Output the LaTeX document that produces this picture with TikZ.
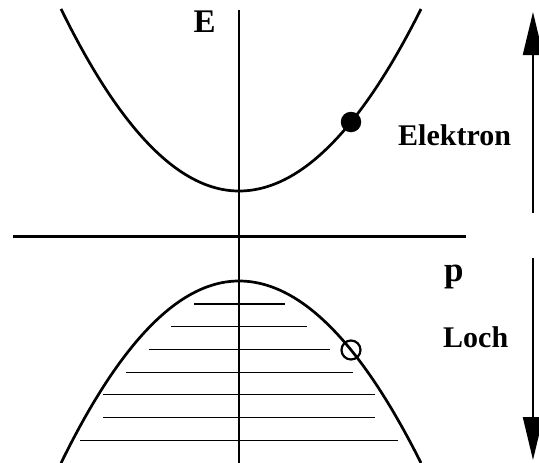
\documentclass[tikz,border=0pt]{standalone}
\usepackage{fontspec}
\setmainfont{Liberation Serif}
\usetikzlibrary{arrows.meta}
\tikzset{
  curve/.style={line width=2.7pt, line join=round},
  axis/.style={line width=2.4pt},
  hatch/.style={line width=1.3pt},
  bigarrow/.style={line width=2.2pt, -{Triangle[length=43pt,width=20pt]}},
  biglabel/.style={anchor=base west, inner sep=0pt, font=\bfseries\fontsize{33}{33}\selectfont},
  plabel/.style={anchor=base west, inner sep=0pt, font=\bfseries\fontsize{35}{35}\selectfont},
  label/.style={anchor=base west, inner sep=0pt, font=\bfseries\fontsize{30}{30}\selectfont}
}
\begin{document}
\begin{tikzpicture}[x=1pt,y=-1pt]
\useasboundingbox (0,0) rectangle (539,463);
% axes
\coordinate (vtop) at (239,10);
\coordinate (vbot) at (239,463);
\coordinate (hl) at (13,236.5);
\coordinate (hr) at (466,236.5);
\draw[axis] (vtop) -- (vbot);
\draw[axis] (hl) -- (hr);
% conduction band
\draw[curve] plot[domain=-178:0, samples=90] ({239+\x},{191-(\x)*(\x/174)})
  -- plot[domain=0:182, samples=90] ({239+\x},{191-(\x)*(\x/182)});
% valence band
\draw[curve] plot[domain=-178:0, samples=90] ({239+\x},{281+(\x)*(\x/174)})
  -- plot[domain=0:182, samples=90] ({239+\x},{281+(\x)*(\x/182)});
% filled states
\draw[hatch] (194,304) -- (285,304);
\draw[hatch] (171,326.7) -- (307,326.7);
\draw[hatch] (148.5,349.3) -- (330,349.3);
\draw[hatch] (126,372.3) -- (353,372.3);
\draw[hatch] (103,394.7) -- (375,394.7);
\draw[hatch] (103,417.7) -- (375,417.7);
\draw[hatch] (80,440.3) -- (398,440.3);
% electron and hole
\node[circle, fill=black, minimum size=20.5pt, inner sep=0pt] (el) at (351,122) {};
\node[circle, draw=black, line width=2.2pt, minimum size=19pt, inner sep=0pt] (hole) at (351,350) {};
% labels
\node[biglabel] (E) at (193.5,32) {E};
\node[plabel] (p) at (444,281) {p};
\node[label] (elektron) at (398,145) {Elektron};
\node[label] (loch) at (443,347) {Loch};
% arrows
\coordinate (a1s) at (533,213);
\coordinate (a1e) at (533,12);
\coordinate (a2s) at (533,258);
\coordinate (a2e) at (533,460);
\draw[bigarrow] (a1s) -- (a1e);
\draw[bigarrow] (a2s) -- (a2e);
\end{tikzpicture}
\end{document}
